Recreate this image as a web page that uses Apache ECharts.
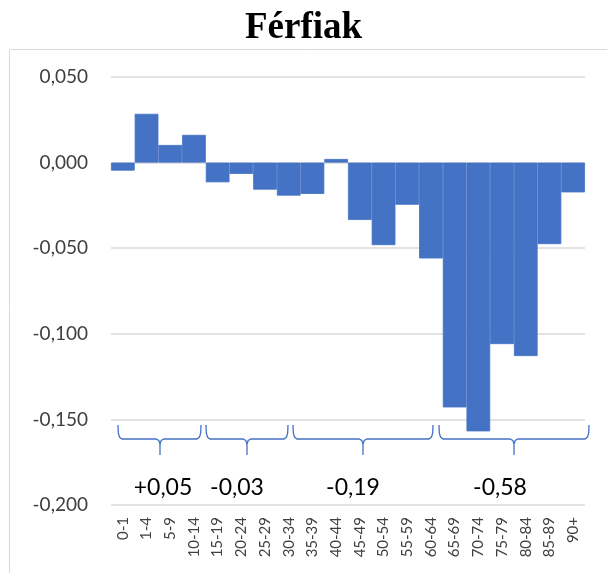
<!DOCTYPE html>
<html>
<head>
<meta charset="utf-8">
<script src="https://cdn.jsdelivr.net/npm/echarts@6/dist/echarts.min.js"></script>
<style>
  html, body { margin: 0; padding: 0; background: #fff; }
  #chart { width: 607px; height: 573px; }
</style>
</head>
<body>
<div id="chart"></div>
<script>
// korcsoportok
const ageGroups = ["0-1", "1-4", "5-9", "10-14", "15-19", "20-24", "25-29", "30-34", "35-39",
    "40-44", "45-49", "50-54", "55-59", "60-64", "65-69", "70-74", "75-79", "80-84", "85-89", "90+"];
const values = [-0.0047, 0.0285, 0.0103, 0.0162, -0.0115, -0.0066, -0.0158, -0.0193, -0.0183,
    0.0021, -0.0335, -0.0482, -0.0246, -0.0560, -0.1430, -0.1570, -0.1060, -0.1130, -0.0476, -0.0174];

// csoport összegek (kapcsos zárójelek alatt)
const groupLabels = ["+0,05", "-0,03", "-0,19", "-0,58"];
const groupLabelX = [163, 237, 353, 500];
// kapcsos zárójelek: bal, jobb, csúcs x
const braces = [[118, 201, 160], [206, 288, 247], [293, 433, 363], [439, 589, 514]];

const yTicks = { min: -0.2, max: 0.05, interval: 0.05 };

const blue = "#4472C4";
const chart = echarts.init(document.getElementById("chart"));

const fmt = (v) => v.toFixed(3).replace(".", ",");

// kapcsos zárójel pontjai
const bracePoints = (x1, x2, xm) => {
    const yTop = 425, yLine = 439, yTip = 455;
    const left = [[x1, yTop], [x1 + 0.3, yLine - 6], [x1 + 1.5, yLine - 2], [x1 + 4, yLine],
        [xm - 4, yLine], [xm - 1.2, yLine + 1.5], [xm, yLine + 5], [xm, yTip]];
    const right = [[xm, yLine + 5], [xm + 1.2, yLine + 1.5], [xm + 4, yLine],
        [x2 - 4, yLine], [x2 - 1.5, yLine - 2], [x2 - 0.3, yLine - 6], [x2, yTop]];
    return [left, right];
};

const graphics = [
    {
        type: "rect",
        shape: { x: 9.5, y: 49.5, width: 620, height: 600 },
        style: { fill: "none", stroke: "#d9d9d9", lineWidth: 1 },
        silent: true,
        z: -10
    }
];
braces.forEach((b) => {
    bracePoints(b[0], b[1], b[2]).forEach((pts) => {
        graphics.push({
            type: "polyline",
            shape: { points: pts },
            style: { fill: null, stroke: blue, lineWidth: 1.3 },
            z: 50
        });
    });
});
groupLabels.forEach((t, i) => {
    graphics.push({
        type: "text",
        x: groupLabelX[i],
        y: 488,
        style: {
            text: t,
            fill: "#000",
            font: "23px Lato",
            align: "center",
            verticalAlign: "middle"
        },
        z: 50
    });
});

chart.setOption({
    animation: false,
    title: {
        text: "Férfiak",
        left: "center",
        top: 5,
        textStyle: {
            fontFamily: "Liberation Serif",
            fontWeight: "bold",
            fontSize: 37,
            color: "#000"
        }
    },
    grid: { left: 111, right: 22, top: 77, bottom: 68, containLabel: false },
    xAxis: {
        type: "category",
        data: ageGroups,
        position: "bottom",
        axisLine: { show: false },
        axisTick: { show: false },
        axisLabel: {
            rotate: 90,
            interval: 0,
            margin: 12,
            color: "#404040",
            fontFamily: "Lato",
            fontSize: 15
        }
    },
    yAxis: {
        type: "value",
        min: yTicks.min,
        max: yTicks.max,
        interval: yTicks.interval,
        axisLine: { show: false },
        axisTick: { show: false },
        splitLine: { lineStyle: { color: "#d9d9d9", width: 1.5 } },
        axisLabel: {
            formatter: fmt,
            margin: 23,
            color: "#404040",
            fontFamily: "Lato",
            fontSize: 19
        }
    },
    series: [
        {
            type: "bar",
            data: values,
            barCategoryGap: "0%",
            itemStyle: { color: blue, borderColor: blue, borderWidth: 0.8 },
            z: 5
        }
    ],
    graphic: graphics
});
</script>
</body>
</html>
